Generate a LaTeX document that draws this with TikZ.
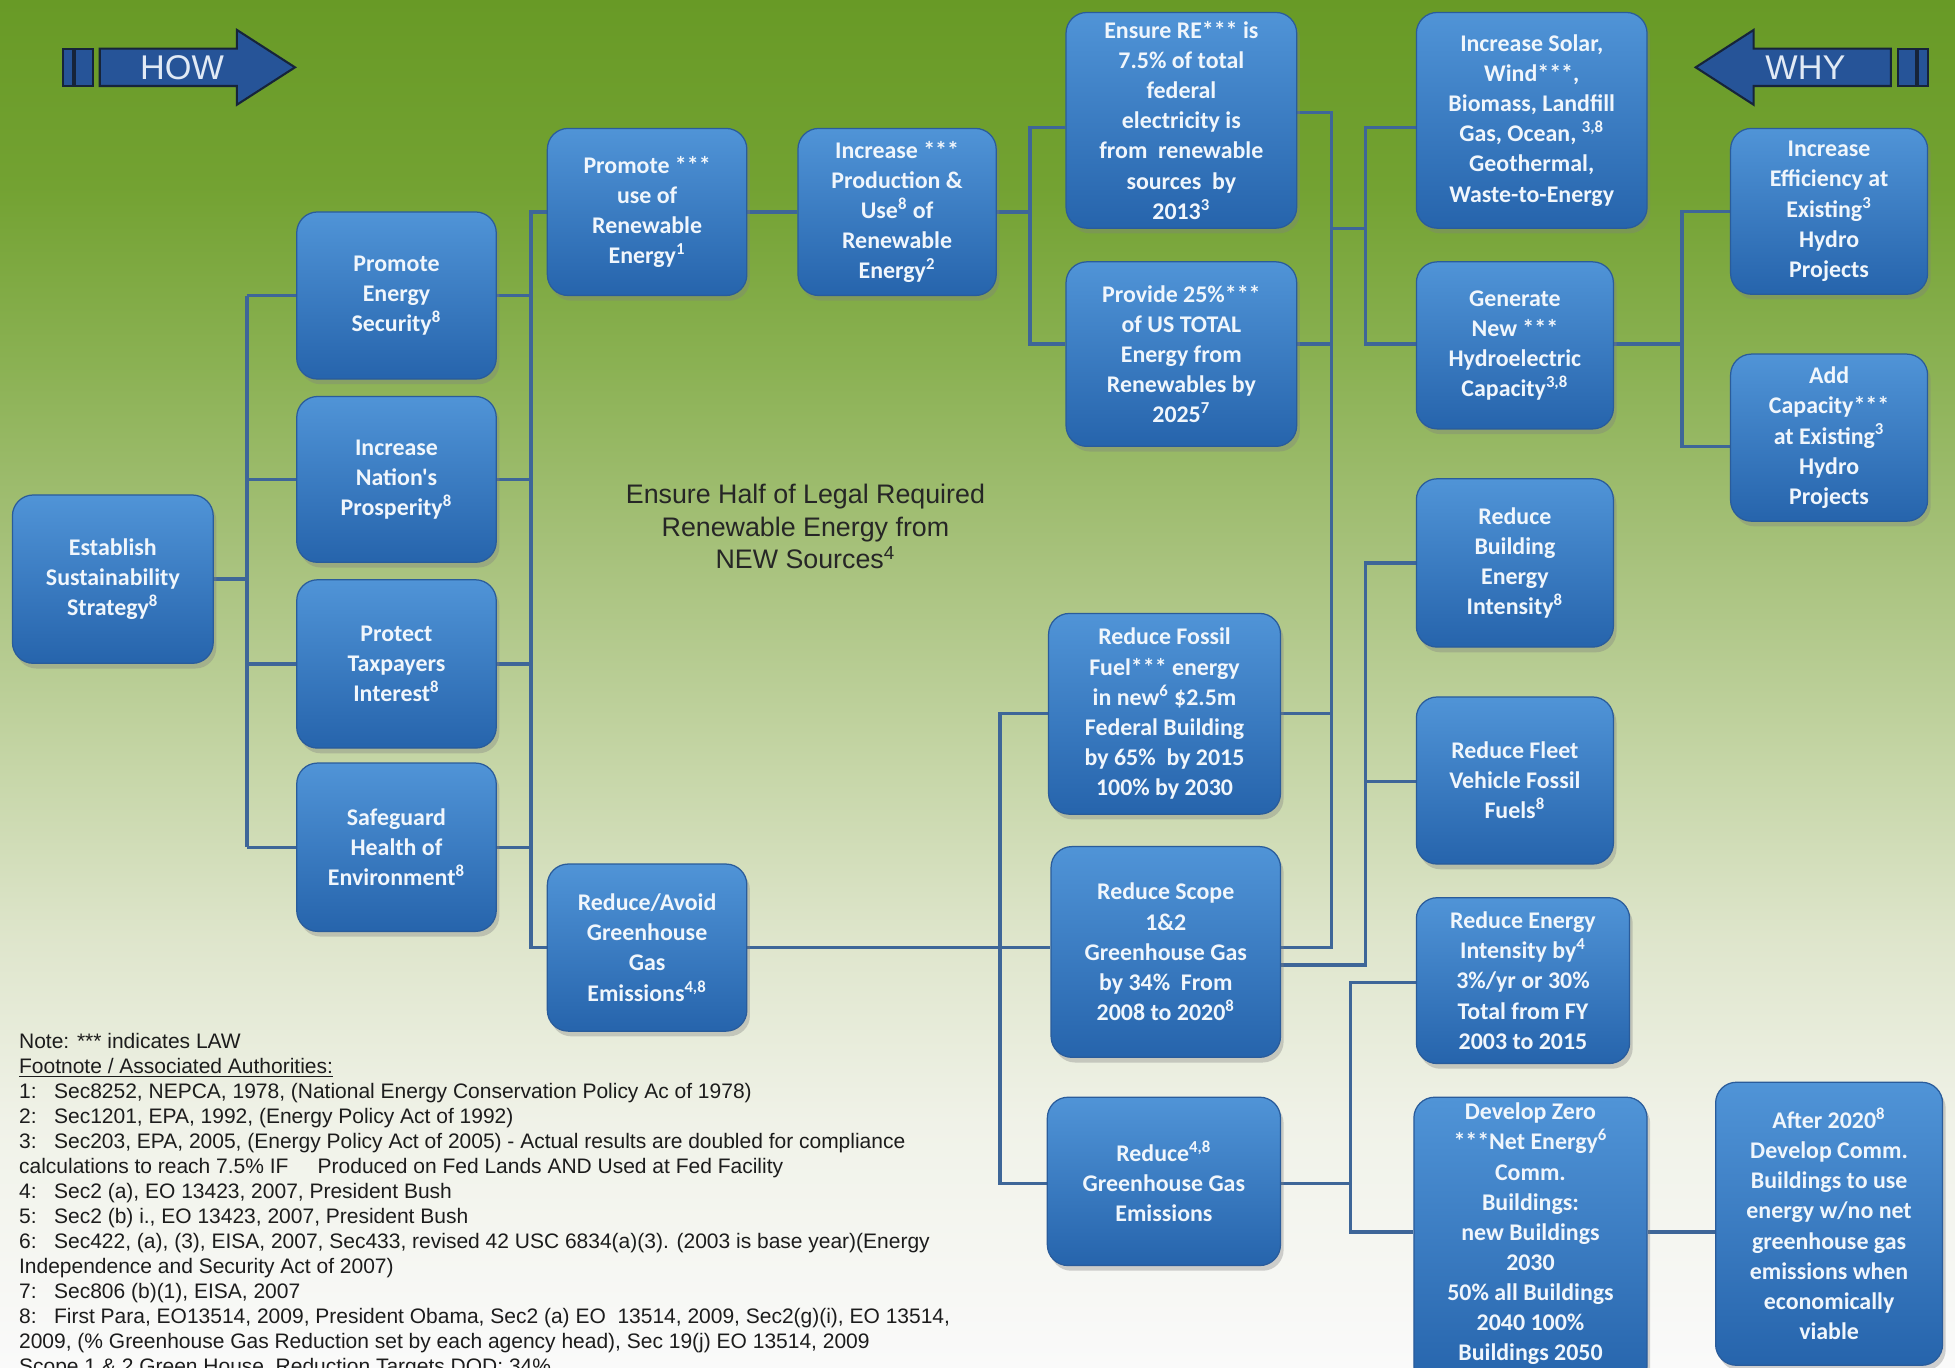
\documentclass[tikz,border=0pt]{standalone}
\usepackage{fontspec}
\setmainfont{Liberation Sans}
\newfontfamily\boxfont{Carlito}
\usetikzlibrary{shadows,calc}
\pgfdeclarelayer{bg}
\pgfdeclarelayer{lines}
\pgfsetlayers{bg,lines,main}

\definecolor{boxtop}{RGB}{80,148,215}
\definecolor{boxbot}{RGB}{38,100,172}
\definecolor{boxedge}{RGB}{42,92,155}
\definecolor{boxtext}{RGB}{240,246,252}
\definecolor{connc}{RGB}{62,102,152}
\definecolor{arrowfill}{RGB}{38,84,152}
\definecolor{arrowedge}{RGB}{22,36,58}
\definecolor{arrowtext}{RGB}{225,234,245}
\definecolor{fntext}{RGB}{28,28,28}
\definecolor{midtext}{RGB}{38,38,38}
\definecolor{bgA}{RGB}{104,154,38}
\definecolor{bgB}{RGB}{115,162,50}
\definecolor{bgC}{RGB}{140,178,85}
\definecolor{bgD}{RGB}{168,194,125}
\definecolor{bgE}{RGB}{195,212,163}
\definecolor{bgF}{RGB}{222,229,203}
\definecolor{bgG}{RGB}{240,242,232}
\definecolor{bgH}{RGB}{250,250,250}

\tikzset{
  box/.style={draw=boxedge, line width=0.6pt, rounded corners=10pt,
    top color=boxtop, bottom color=boxbot,
    drop shadow={shadow xshift=1.5pt, shadow yshift=-2.5pt, opacity=0.35},
    text=boxtext, font=\boxfont\bfseries\fontsize{11.5}{14.5}\selectfont,
    align=center, inner sep=2pt},
  sz/.style 2 args={minimum width=#1*0.6pt, minimum height=#2*0.6pt},
  conn/.style={draw=connc, line width=1.6pt},
  arrowsty/.style={fill=arrowfill, draw=arrowedge, line width=1pt, line join=miter},
  arrowlabel/.style={text=arrowtext, font=\fontsize{16.5}{18}\selectfont, inner sep=0pt},
}

\begin{document}
\begin{tikzpicture}[x=0.6pt,y=-0.6pt]
\useasboundingbox (0,0) rectangle (1568,1097);

% background
\begin{pgfonlayer}{bg}
\shade[top color=bgA, bottom color=bgB] (0,0) rectangle (1568,151);
\shade[top color=bgB, bottom color=bgC] (0,150) rectangle (1568,301);
\shade[top color=bgC, bottom color=bgD] (0,300) rectangle (1568,451);
\shade[top color=bgD, bottom color=bgE] (0,450) rectangle (1568,601);
\shade[top color=bgE, bottom color=bgF] (0,600) rectangle (1568,751);
\shade[top color=bgF, bottom color=bgG] (0,750) rectangle (1568,901);
\shade[top color=bgG, bottom color=bgH] (0,900) rectangle (1568,1097);
\end{pgfonlayer}

% HOW arrow
\draw[arrowsty] (50.5,39) rectangle (58.5,69);
\draw[arrowsty] (60,39) rectangle (74.6,69);
\draw[arrowsty] (80,39) -- (190,39) -- (190,24) -- (236.6,54) -- (190,84) -- (190,69) -- (80,69) -- cycle;
\node[arrowlabel] (how) at (146,54) {HOW};

% WHY arrow
\draw[arrowsty] (1538,39) rectangle (1546,69);
\draw[arrowsty] (1522,39) rectangle (1536.5,69);
\draw[arrowsty] (1516.5,39) -- (1406.5,39) -- (1406.5,24) -- (1360,54) -- (1406.5,84) -- (1406.5,69) -- (1516.5,69) -- cycle;
\node[arrowlabel] (why) at (1448,54) {WHY};

% boxes
\node[box,sz={161}{135}] (est) at (90.5,464.5) {Establish\\Sustainability\\Strategy\textsuperscript{8}};
\node[box,sz={160}{134}] (pes) at (318,237) {Promote\\Energy\\Security\textsuperscript{8}};
\node[box,sz={160}{133}] (nat) at (318,384.5) {Increase\\Nation's\\Prosperity\textsuperscript{8}};
\node[box,sz={160}{135}] (tax) at (318,532.5) {Protect\\Taxpayers\\Interest\textsuperscript{8}};
\node[box,sz={160}{135}] (saf) at (318,679.5) {Safeguard\\Health of\\Environment\textsuperscript{8}};
\node[box,sz={160}{134}] (pru) at (519,170) {Promote ***\\use of\\Renewable\\Energy\textsuperscript{1}};
\node[box,sz={159}{134}] (inc) at (719.5,170) {Increase ***\\Production \&\\Use\textsuperscript{8} of\\Renewable\\Energy\textsuperscript{2}};
\node[box,sz={185}{173}] (ens) at (947.5,96.5) {Ensure RE*** is\\7.5\% of total\\federal\\electricity is\\from~~renewable\\sources~~by\\2013\textsuperscript{3}};
\node[box,sz={185}{148}] (prov) at (947.5,284) {Provide 25\%***\\of US TOTAL\\Energy from\\Renewables by\\2025\textsuperscript{7}};
\node[box,sz={185}{173}] (sol) at (1228.5,96.5) {Increase Solar,\\Wind***,\\Biomass, Landfill\\Gas, Ocean, \textsuperscript{3,8}\\Geothermal,\\Waste-to-Energy};
\node[box,sz={158}{134}] (gen) at (1215,277) {Generate\\New ***\\Hydroelectric\\Capacity\textsuperscript{3,8}};
\node[box,sz={158}{133}] (eff) at (1467,169.5) {Increase\\Efficiency at\\Existing\textsuperscript{3}\\Hydro\\Projects};
\node[box,sz={158}{134}] (add) at (1467,351) {Add\\Capacity***\\at Existing\textsuperscript{3}\\Hydro\\Projects};
\node[box,sz={158}{135}] (bld) at (1215,451.5) {Reduce\\Building\\Energy\\Intensity\textsuperscript{8}};
\node[box,sz={158}{134}] (flt) at (1215,626) {Reduce Fleet\\Vehicle Fossil\\Fuels\textsuperscript{8}};
\node[box,sz={171}{133}] (rei) at (1221.5,786.5) {Reduce Energy\\Intensity by\textsuperscript{4}\\3\%/yr or 30\%\\Total from FY\\2003 to 2015};
\node[box,sz={187}{232}] (dz) at (1227.5,996) {Develop Zero\\***Net Energy\textsuperscript{6}\\Comm.\\Buildings:\\new Buildings\\2030\\50\% all Buildings\\2040 100\%\\Buildings 2050\\[-5pt]\mbox{}};
\node[box,sz={182}{227}] (aft) at (1467,981.5) {After 2020\textsuperscript{8}\\Develop Comm.\\Buildings to use\\energy w/no net\\greenhouse gas\\emissions when\\economically\\viable};
\node[box,sz={186}{161}] (rff) at (934,572.5) {Reduce Fossil\\Fuel*** energy\\in new\textsuperscript{6} \$2.5m\\Federal Building\\by 65\%~~by 2015\\100\% by 2030};
\node[box,sz={184}{169}] (rsc) at (935,763.5) {Reduce Scope\\1\&2\\Greenhouse Gas\\by 34\%~~From\\2008 to 2020\textsuperscript{8}};
\node[box,sz={187}{135}] (rgh) at (933.5,947.5) {Reduce\textsuperscript{4,8}\\Greenhouse Gas\\Emissions};
\node[box,sz={160}{134}] (rav) at (519,760) {Reduce/Avoid\\Greenhouse\\Gas\\Emissions\textsuperscript{4,8}};

% centre text
\node[anchor=north, inner sep=0pt, align=center, text=midtext,
      font=\fontsize{12.9}{15.6}\selectfont] (mid) at (646,388)
  {Ensure Half of Legal Required\\Renewable Energy from\\NEW Sources\textsuperscript{4}};

% footnotes
\node[anchor=north west, inner sep=0pt, align=left, text=fntext,
      font=\fontsize{10.1}{12.06}\selectfont] (fn) at (15,828)
  {Note: *** indicates LAW\\
   \underline{Footnote / Associated Authorities:}\\
   1:~~~Sec8252, NEPCA, 1978, (National Energy Conservation Policy Ac of 1978)\\
   2:~~~Sec1201, EPA, 1992, (Energy Policy Act of 1992)\\
   3:~~~Sec203, EPA, 2005, (Energy Policy Act of 2005) - Actual results are doubled for compliance\\
   calculations to reach 7.5\% IF~~~~~Produced on Fed Lands AND Used at Fed Facility\\
   4:~~~Sec2 (a), EO 13423, 2007, President Bush\\
   5:~~~Sec2 (b) i., EO 13423, 2007, President Bush\\
   6:~~~Sec422, (a), (3), EISA, 2007, Sec433, revised 42 USC 6834(a)(3). (2003 is base year)(Energy\\
   Independence and Security Act of 2007)\\
   7:~~~Sec806 (b)(1), EISA, 2007\\
   8:~~~First Para, EO13514, 2009, President Obama, Sec2 (a) EO~~13514, 2009, Sec2(g)(i), EO 13514,\\
   2009, (\% Greenhouse Gas Reduction set by each agency head), Sec 19(j) EO 13514, 2009\\
   Scope 1 \& 2 Green House~~Reduction Targets DOD: 34\%};

% connectors
\begin{pgfonlayer}{lines}
\coordinate (x1) at (198,0);
\coordinate (x2) at (426,0);
\coordinate (x3) at (826,0);
\coordinate (x4) at (1068,0);
\coordinate (x5) at (1095,0);
\coordinate (x6) at (1349,0);
\coordinate (x8) at (1083,0);
\coordinate (x9) at (802,0);
\coordinate (br) at (0,183);

\draw[conn] (est.east) -- (est.east -| x1);
\draw[conn] (pes.west -| x1) -- (saf.west -| x1);
\foreach \n in {pes,nat,tax,saf} {
  \draw[conn] (\n.west -| x1) -- (\n.west);
  \draw[conn] (\n.east) -- (\n.east -| x2);
}
\draw[conn] (pru.west) -- (pru.west -| x2) -- (rav.west -| x2) -- (rav.west);
\draw[conn] (pru.east) -- (inc.west);

\coordinate (ensw) at ($(ens.west)+(0,5.5)$);
\coordinate (provw) at ($(prov.west)+(0,-8)$);
\draw[conn] (inc.east) -- (inc.east -| x3);
\draw[conn] (ensw) -- (ensw -| x3) -- (provw -| x3) -- (provw);

\coordinate (ense) at ($(ens.east)+(0,-6.5)$);
\coordinate (prove) at ($(prov.east)+(0,-8)$);
\coordinate (rsce) at ($(rsc.east)+(0,-3.5)$);
\draw[conn] (ense) -- (ense -| x4) -- (rsce -| x4) -- (rsce);
\draw[conn] (prove) -- (prove -| x4);
\draw[conn] (rff.east) -- (rff.east -| x4);
\draw[conn] (br -| x4) -- (br -| x5);

\coordinate (solw) at ($(sol.west)+(0,5.5)$);
\coordinate (genw) at ($(gen.west)+(0,-1)$);
\draw[conn] (solw) -- (solw -| x5) -- (genw -| x5) -- (genw);

\coordinate (gene) at ($(gen.east)+(0,-1)$);
\coordinate (addw) at ($(add.west)+(0,7)$);
\draw[conn] (gene) -- (gene -| x6);
\draw[conn] (eff.west) -- (eff.west -| x6) -- (addw -| x6) -- (addw);

\coordinate (fltw) at ($(flt.west)+(0,1)$);
\coordinate (rsce2) at ($(rsc.east)+(0,10.5)$);
\draw[conn] (bld.west) -- (bld.west -| x5) -- (rsce2 -| x5) -- (rsce2);
\draw[conn] (fltw) -- (fltw -| x5);

\coordinate (reiw) at ($(rei.west)+(0,1.5)$);
\coordinate (dzw) at ($(dz.west)+(0,-8)$);
\coordinate (rghe) at ($(rgh.east)+(0,1.5)$);
\draw[conn] (reiw) -- (reiw -| x8) -- (dzw -| x8) -- (dzw);
\draw[conn] (rghe) -- (rghe -| x8);
\draw[conn] ($(dz.east)+(0,-8)$) -- ($(aft.west)+(0,6.5)$);

\coordinate (rscw) at ($(rsc.west)+(0,-3.5)$);
\coordinate (rghw) at ($(rgh.west)+(0,1.5)$);
\draw[conn] (rff.west) -- (rff.west -| x9) -- (rghw -| x9) -- (rghw);
\draw[conn] (rav.east) -- (rscw);
\end{pgfonlayer}
\end{tikzpicture}
\end{document}
